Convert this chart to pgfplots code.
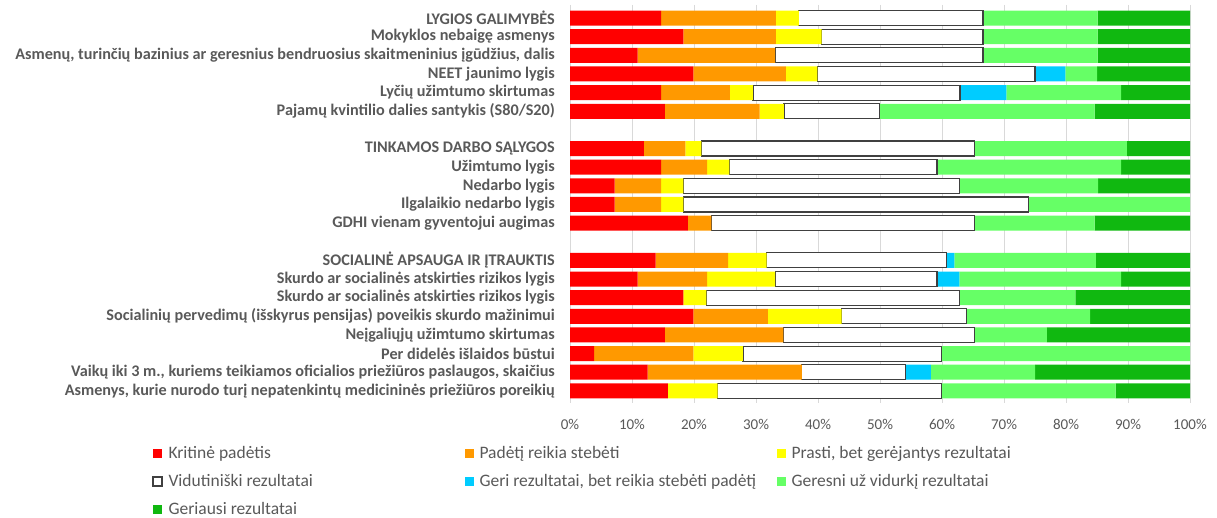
\documentclass[border=0pt]{standalone}
\usepackage{fontspec}
\setmainfont{Carlito}
\usepackage{pgfplots}
\usepackage{pgfplotstable}
\pgfplotsset{compat=1.18}
\definecolor{cRed}{HTML}{FF0000}
\definecolor{cOrange}{HTML}{FF9900}
\definecolor{cYellow}{HTML}{FFFF00}
\definecolor{cBlue}{HTML}{00CCFF}
\definecolor{cLGreen}{HTML}{66FF66}
\definecolor{cDGreen}{HTML}{10B810}
\definecolor{cText}{HTML}{595959}
\definecolor{cGrid}{HTML}{D9D9D9}
\definecolor{cBorder}{HTML}{404040}

\pgfplotstableread{
y  red  orange yellow white blue lgreen dgreen
0  14.7 18.5   3.7    29.7  0    18.5   14.9
1  18.3 14.9   7.4    26.0  0    18.5   14.9
2  10.9 22.2   0      33.5  0    18.5   14.9
3  19.9 14.9   5.1    35.1  4.9  5.1    15.0
4  14.7 11.1   3.7    33.4  7.5  18.5   11.1
5  15.3 15.3   3.9    15.4  0    34.7   15.4
7  11.9 6.7    2.6    44.1  0    24.5   10.2
8  14.7 7.4    3.6    33.5  0    29.7   11.1
9  7.2  7.5    3.6    44.5  0    22.4   14.8
10 7.2  7.5    3.6    55.7  0    26.0   0
11 19.0 3.8    0      42.5  0    19.3   15.4
13 13.8 11.7   6.2    29.0  1.3  22.8   15.2
14 10.9 11.2   11.0   26.1  3.6  26.1   11.1
15 18.3 0      3.7    40.8  0    18.7   18.5
16 19.9 12.0   11.9   20.1  0    20.0   16.1
17 15.3 19.1   0      30.9  0    11.6   23.1
18 3.9  16.0   8.0    32.0  0    40.1   0
19 12.5 24.9   0      16.7  4.1  16.8   25.0
20 15.8 0      8.0    36.1  0    28.1   12.0
}\data

\begin{document}
\begin{tikzpicture}[x=1pt,y=1pt]
\useasboundingbox (0,0) rectangle (1217,518);
\begin{axis}[
  at={(570pt,115pt)}, anchor=south west,
  scale only axis, width=620pt, height=398pt,
  xbar stacked, bar width=15pt,
  y dir=reverse, ymin=-0.7, ymax=20.65,
  xmin=0, xmax=100,
  xtick={0,10,...,100},
  xticklabels={0\%,10\%,20\%,30\%,40\%,50\%,60\%,70\%,80\%,90\%,100\%},
  ytick={0,1,2,3,4,5,7,8,9,10,11,13,14,15,16,17,18,19,20},
  yticklabels={
    {LYGIOS GALIMYBĖS},
    {Mokyklos nebaigę asmenys},
    {Asmenų, turinčių bazinius ar geresnius bendruosius skaitmeninius įgūdžius, dalis},
    {NEET jaunimo lygis},
    {Lyčių užimtumo skirtumas},
    {Pajamų kvintilio dalies santykis (S80/S20)},
    {TINKAMOS DARBO SĄLYGOS},
    {Užimtumo lygis},
    {Nedarbo lygis},
    {Ilgalaikio nedarbo lygis},
    {GDHI vienam gyventojui augimas},
    {SOCIALINĖ APSAUGA IR ĮTRAUKTIS},
    {Skurdo ar socialinės atskirties rizikos lygis},
    {Skurdo ar socialinės atskirties rizikos lygis},
    {Socialinių pervedimų (išskyrus pensijas) poveikis skurdo mažinimui},
    {Neįgaliųjų užimtumo skirtumas},
    {Per didelės išlaidos būstui},
    {Vaikų iki 3 m., kuriems teikiamos oficialios priežiūros paslaugos, skaičius},
    {Asmenys, kurie nurodo turį nepatenkintų medicininės priežiūros poreikių}},
  yticklabel style={font=\bfseries\fontsize{16.2}{18}\selectfont, text=cText, inner sep=0pt, anchor=east, xshift=-15pt},
  xticklabel style={font=\fontsize{15}{18}\selectfont, text=cText, inner sep=0pt, anchor=north, yshift=-16pt},
  xmajorgrids, major grid style={color=cGrid, line width=0.8pt},
  axis line style={draw=none},
  tick style={draw=none},
  clip=false,
  legend columns=3,
  legend cell align=left,
  legend image code/.code={\path[#1] (0pt,-4.8pt) rectangle (9pt,4.2pt); \path (15pt,0pt);},
  legend style={draw=none, fill=none, at={(-0.674,-0.1075)}, anchor=north west,
    inner sep=0pt, column sep=0pt, row sep=13.5pt,
    font=\fontsize{17.5}{20}\selectfont, text=cText, nodes={inner sep=0pt}},
]
\addplot[fill=cRed, draw=none] table[x=red, y=y] {\data};
\addlegendentry{\makebox[296pt][l]{\rule[-4pt]{0pt}{17pt}Kritinė padėtis}}
\addplot[fill=cOrange, draw=none] table[x=orange, y=y] {\data};
\addlegendentry{\makebox[297pt][l]{\rule[-4pt]{0pt}{17pt}Padėtį reikia stebėti}}
\addplot[fill=cYellow, draw=none] table[x=yellow, y=y] {\data};
\addlegendentry{\rule[-4pt]{0pt}{17pt}Prasti, bet gerėjantys rezultatai}
\addplot[fill=white, draw=cBorder, line width=1.2pt] table[x=white, y=y] {\data};
\addlegendentry{\makebox[296pt][l]{\rule[-4pt]{0pt}{17pt}Vidutiniški rezultatai}}
\addplot[fill=cBlue, draw=none] table[x=blue, y=y] {\data};
\addlegendentry{\makebox[297pt][l]{\rule[-4pt]{0pt}{17pt}Geri rezultatai, bet reikia stebėti padėtį}}
\addplot[fill=cLGreen, draw=none] table[x=lgreen, y=y] {\data};
\addlegendentry{\rule[-4pt]{0pt}{17pt}Geresni už vidurkį rezultatai}
\addplot[fill=cDGreen, draw=none] table[x=dgreen, y=y] {\data};
\addlegendentry{\makebox[296pt][l]{\rule[-4pt]{0pt}{17pt}Geriausi rezultatai}}
\end{axis}
\end{tikzpicture}
\end{document}
